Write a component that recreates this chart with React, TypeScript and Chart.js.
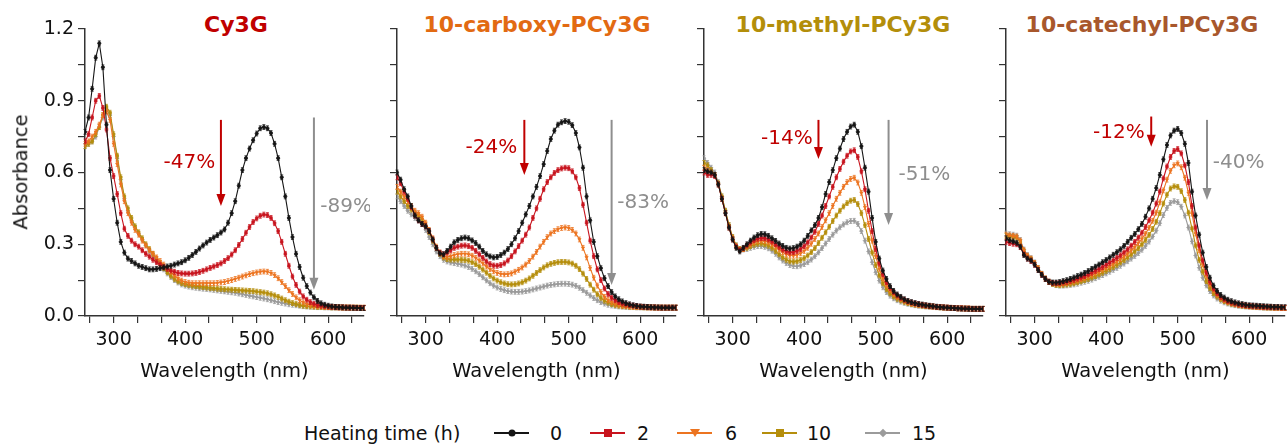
import React, { useEffect, useRef } from 'react';
import { Chart, registerables } from 'chart.js';

Chart.register(...registerables);

const FONT = '"DejaVu Sans", "Liberation Sans", sans-serif';

// ---------- data ----------
const wavelengths = [
  260, 265, 270, 275, 280, 285, 290, 295, 300, 305,
  310, 315, 320, 325, 330, 335, 340, 345, 350, 355,
  360, 365, 370, 375, 380, 385, 390, 395, 400, 405,
  410, 415, 420, 425, 430, 435, 440, 445, 450, 455,
  460, 465, 470, 475, 480, 485, 490, 495, 500, 505,
  510, 515, 520, 525, 530, 535, 540, 545, 550, 555,
  560, 565, 570, 575, 580, 585, 590, 595, 600, 605,
  610, 615, 620, 625, 630, 635, 640, 645, 650,
];

const heatingTimes = ['0', '2', '6', '10', '15'];
const seriesColors = ['#151515', '#c8141e', '#ec7420', '#b58e0c', '#9b9b9b'];
const pointStyles = ['circle', 'rect', 'triangle', 'rect', 'rectRot'];
const pointRotations = [0, 0, 180, 0, 0];

const xTickValues = [266.667, 300, 333.333, 366.667, 400, 433.333, 466.667, 500, 533.333, 566.667, 600, 633.333];
const yTickValues = [0, 0.15, 0.3, 0.45, 0.6, 0.75, 0.9, 1.05, 1.2];

// Cy3G
const cy3g_0h = [
  0.77, 0.83, 0.95, 1.08, 1.14, 1.04, 0.80, 0.61, 0.49, 0.39,
  0.31, 0.265, 0.24, 0.23, 0.22, 0.21, 0.205, 0.20, 0.195, 0.195,
  0.197, 0.20, 0.203, 0.207, 0.21, 0.215, 0.22, 0.225, 0.233, 0.243,
  0.255, 0.268, 0.282, 0.295, 0.307, 0.318, 0.328, 0.338, 0.349, 0.362,
  0.39, 0.43, 0.48, 0.545, 0.61, 0.66, 0.70, 0.735, 0.763, 0.785,
  0.79, 0.785, 0.765, 0.72, 0.66, 0.58, 0.50, 0.41, 0.33, 0.26,
  0.205, 0.16, 0.125, 0.098, 0.078, 0.063, 0.053, 0.047, 0.043, 0.04,
  0.038, 0.037, 0.036, 0.035, 0.035, 0.034, 0.034, 0.033, 0.033,
];
const cy3g_2h = [
  0.73, 0.76, 0.83, 0.90, 0.92, 0.87, 0.78, 0.66, 0.585, 0.51,
  0.43, 0.365, 0.335, 0.315, 0.30, 0.29, 0.275, 0.26, 0.248, 0.235,
  0.225, 0.215, 0.205, 0.197, 0.19, 0.185, 0.18, 0.178, 0.177, 0.177,
  0.178, 0.18, 0.184, 0.189, 0.195, 0.201, 0.207, 0.213, 0.22, 0.23,
  0.242, 0.257, 0.275, 0.297, 0.322, 0.348, 0.372, 0.393, 0.408, 0.419,
  0.424, 0.422, 0.41, 0.388, 0.355, 0.31, 0.26, 0.21, 0.165, 0.13,
  0.102, 0.082, 0.068, 0.058, 0.051, 0.046, 0.043, 0.041, 0.039, 0.038,
  0.037, 0.036, 0.036, 0.035, 0.035, 0.035, 0.034, 0.034, 0.034,
];
const cy3g_6h = [
  0.72, 0.73, 0.75, 0.77, 0.80, 0.84, 0.855, 0.82, 0.72, 0.635,
  0.55, 0.48, 0.43, 0.39, 0.36, 0.34, 0.315, 0.295, 0.275, 0.26,
  0.245, 0.23, 0.215, 0.20, 0.185, 0.17, 0.158, 0.148, 0.142, 0.139,
  0.137, 0.137, 0.137, 0.137, 0.137, 0.137, 0.137, 0.138, 0.14, 0.142,
  0.146, 0.15, 0.155, 0.16, 0.165, 0.17, 0.175, 0.179, 0.182, 0.185,
  0.186, 0.185, 0.18, 0.171, 0.158, 0.142, 0.125, 0.108, 0.092, 0.078,
  0.066, 0.057, 0.05, 0.046, 0.043, 0.041, 0.04, 0.039, 0.038, 0.037,
  0.037, 0.036, 0.036, 0.036, 0.035, 0.035, 0.035, 0.035, 0.035,
];
const cy3g_10h = [
  0.71, 0.72, 0.73, 0.76, 0.79, 0.84, 0.875, 0.85, 0.76, 0.67,
  0.58, 0.50, 0.45, 0.41, 0.375, 0.35, 0.325, 0.30, 0.28, 0.26,
  0.24, 0.22, 0.20, 0.183, 0.168, 0.155, 0.145, 0.138, 0.133, 0.13,
  0.127, 0.125, 0.123, 0.121, 0.119, 0.117, 0.116, 0.114, 0.113, 0.112,
  0.111, 0.11, 0.109, 0.108, 0.107, 0.106, 0.105, 0.104, 0.102, 0.10,
  0.098, 0.095, 0.091, 0.086, 0.08, 0.073, 0.066, 0.06, 0.054, 0.05,
  0.046, 0.043, 0.041, 0.04, 0.039, 0.038, 0.038, 0.037, 0.037, 0.036,
  0.036, 0.036, 0.035, 0.035, 0.035, 0.035, 0.035, 0.034, 0.034,
];
const cy3g_15h = [
  0.71, 0.72, 0.73, 0.75, 0.79, 0.83, 0.865, 0.84, 0.75, 0.66,
  0.57, 0.49, 0.44, 0.40, 0.37, 0.345, 0.32, 0.295, 0.272, 0.252,
  0.232, 0.213, 0.195, 0.178, 0.163, 0.15, 0.14, 0.132, 0.127, 0.123,
  0.12, 0.118, 0.116, 0.114, 0.113, 0.111, 0.109, 0.107, 0.105, 0.103,
  0.101, 0.099, 0.097, 0.094, 0.091, 0.088, 0.085, 0.082, 0.079, 0.076,
  0.073, 0.07, 0.066, 0.062, 0.058, 0.055, 0.052, 0.049, 0.047, 0.045,
  0.043, 0.041, 0.04, 0.039, 0.038, 0.037, 0.037, 0.036, 0.036, 0.035,
  0.035, 0.035, 0.035, 0.034, 0.034, 0.034, 0.034, 0.034, 0.034,
];

// 10-carboxy-PCy3G
const carboxy_0h = [
  0.60, 0.57, 0.53, 0.50, 0.46, 0.42, 0.40, 0.385, 0.375, 0.355,
  0.32, 0.285, 0.262, 0.258, 0.272, 0.29, 0.308, 0.318, 0.325, 0.328,
  0.325, 0.316, 0.305, 0.29, 0.272, 0.258, 0.249, 0.245, 0.247, 0.255,
  0.265, 0.28, 0.30, 0.325, 0.355, 0.39, 0.425, 0.46, 0.50, 0.54,
  0.585, 0.635, 0.69, 0.74, 0.775, 0.80, 0.81, 0.815, 0.812, 0.798,
  0.765, 0.705, 0.62, 0.50, 0.40, 0.31, 0.25, 0.20, 0.158, 0.125,
  0.10, 0.082, 0.07, 0.061, 0.054, 0.049, 0.045, 0.042, 0.04, 0.039,
  0.038, 0.037, 0.036, 0.036, 0.035, 0.035, 0.035, 0.035, 0.035,
];
const carboxy_2h = [
  0.58, 0.555, 0.52, 0.49, 0.455, 0.42, 0.40, 0.385, 0.375, 0.355,
  0.32, 0.285, 0.265, 0.258, 0.265, 0.275, 0.285, 0.29, 0.294, 0.295,
  0.292, 0.285, 0.272, 0.258, 0.243, 0.228, 0.217, 0.211, 0.21, 0.213,
  0.22, 0.232, 0.25, 0.27, 0.292, 0.315, 0.34, 0.37, 0.41, 0.45,
  0.49, 0.53, 0.56, 0.58, 0.598, 0.61, 0.617, 0.62, 0.618, 0.605,
  0.58, 0.535, 0.465, 0.39, 0.315, 0.25, 0.195, 0.15, 0.115, 0.092,
  0.076, 0.066, 0.058, 0.052, 0.048, 0.045, 0.043, 0.041, 0.039, 0.038,
  0.037, 0.036, 0.036, 0.035, 0.035, 0.035, 0.035, 0.035, 0.035,
];
const carboxy_6h = [
  0.54, 0.52, 0.50, 0.48, 0.46, 0.44, 0.43, 0.415, 0.39, 0.36,
  0.325, 0.29, 0.265, 0.25, 0.247, 0.25, 0.255, 0.258, 0.26, 0.26,
  0.258, 0.252, 0.243, 0.232, 0.22, 0.207, 0.196, 0.187, 0.18, 0.176,
  0.174, 0.175, 0.178, 0.185, 0.193, 0.203, 0.215, 0.23, 0.248, 0.268,
  0.29, 0.31, 0.33, 0.345, 0.355, 0.363, 0.368, 0.37, 0.368, 0.36,
  0.345, 0.32, 0.285, 0.245, 0.20, 0.16, 0.127, 0.10, 0.08, 0.067,
  0.058, 0.051, 0.047, 0.044, 0.042, 0.04, 0.039, 0.038, 0.037, 0.037,
  0.036, 0.036, 0.036, 0.035, 0.035, 0.035, 0.035, 0.035, 0.035,
];
const carboxy_10h = [
  0.52, 0.50, 0.48, 0.46, 0.445, 0.43, 0.42, 0.405, 0.38, 0.35,
  0.315, 0.285, 0.26, 0.245, 0.238, 0.236, 0.236, 0.236, 0.235, 0.234,
  0.231, 0.225, 0.217, 0.206, 0.194, 0.181, 0.168, 0.157, 0.148, 0.141,
  0.136, 0.133, 0.132, 0.133, 0.136, 0.141, 0.148, 0.157, 0.168, 0.18,
  0.192, 0.203, 0.212, 0.218, 0.222, 0.225, 0.226, 0.226, 0.224, 0.219,
  0.21, 0.196, 0.177, 0.155, 0.131, 0.11, 0.091, 0.076, 0.064, 0.056,
  0.05, 0.046, 0.043, 0.041, 0.04, 0.039, 0.038, 0.037, 0.037, 0.036,
  0.036, 0.036, 0.035, 0.035, 0.035, 0.035, 0.035, 0.035, 0.035,
];
const carboxy_15h = [
  0.50, 0.48, 0.46, 0.44, 0.425, 0.41, 0.40, 0.385, 0.36, 0.33,
  0.30, 0.27, 0.25, 0.235, 0.228, 0.224, 0.221, 0.218, 0.215, 0.211,
  0.205, 0.197, 0.187, 0.175, 0.162, 0.149, 0.137, 0.127, 0.119, 0.113,
  0.108, 0.104, 0.102, 0.101, 0.101, 0.102, 0.104, 0.107, 0.111, 0.115,
  0.119, 0.123, 0.127, 0.13, 0.132, 0.134, 0.135, 0.135, 0.134, 0.131,
  0.126, 0.118, 0.108, 0.097, 0.086, 0.075, 0.066, 0.058, 0.052, 0.047,
  0.044, 0.042, 0.04, 0.039, 0.038, 0.037, 0.037, 0.036, 0.036, 0.036,
  0.035, 0.035, 0.035, 0.035, 0.035, 0.034, 0.034, 0.034, 0.034,
];

// 10-methyl-PCy3G
const methyl_0h = [
  0.61, 0.605, 0.60, 0.59, 0.55, 0.49, 0.43, 0.37, 0.32, 0.285,
  0.27, 0.285, 0.30, 0.315, 0.328, 0.338, 0.343, 0.342, 0.335, 0.325,
  0.314, 0.303, 0.293, 0.285, 0.282, 0.284, 0.29, 0.30, 0.315, 0.335,
  0.358, 0.38, 0.41, 0.455, 0.51, 0.56, 0.61, 0.66, 0.70, 0.74,
  0.77, 0.792, 0.80, 0.77, 0.71, 0.62, 0.52, 0.41, 0.31, 0.24,
  0.19, 0.155, 0.125, 0.105, 0.09, 0.08, 0.07, 0.063, 0.058, 0.054,
  0.05, 0.048, 0.045, 0.043, 0.041, 0.039, 0.037, 0.036, 0.035, 0.034,
  0.033, 0.032, 0.031, 0.031, 0.03, 0.03, 0.03, 0.03, 0.03,
];
const methyl_2h = [
  0.60, 0.59, 0.59, 0.585, 0.55, 0.49, 0.43, 0.37, 0.32, 0.29,
  0.275, 0.283, 0.295, 0.307, 0.317, 0.323, 0.326, 0.325, 0.32, 0.311,
  0.30, 0.289, 0.278, 0.27, 0.266, 0.267, 0.272, 0.28, 0.292, 0.308,
  0.328, 0.352, 0.385, 0.42, 0.46, 0.50, 0.54, 0.58, 0.615, 0.645,
  0.67, 0.688, 0.693, 0.665, 0.605, 0.53, 0.44, 0.355, 0.28, 0.22,
  0.175, 0.142, 0.118, 0.10, 0.086, 0.076, 0.068, 0.061, 0.056, 0.052,
  0.049, 0.046, 0.044, 0.042, 0.04, 0.038, 0.037, 0.036, 0.035, 0.034,
  0.033, 0.032, 0.032, 0.031, 0.031, 0.03, 0.03, 0.03, 0.03,
];
const methyl_6h = [
  0.62, 0.61, 0.60, 0.59, 0.55, 0.49, 0.43, 0.37, 0.325, 0.29,
  0.277, 0.28, 0.29, 0.30, 0.308, 0.313, 0.315, 0.313, 0.308, 0.30,
  0.29, 0.278, 0.267, 0.258, 0.253, 0.252, 0.255, 0.262, 0.272, 0.285,
  0.302, 0.322, 0.345, 0.372, 0.40, 0.43, 0.46, 0.49, 0.515, 0.54,
  0.56, 0.573, 0.578, 0.558, 0.515, 0.455, 0.385, 0.315, 0.25, 0.197,
  0.157, 0.128, 0.107, 0.092, 0.08, 0.071, 0.064, 0.058, 0.053, 0.05,
  0.047, 0.045, 0.043, 0.041, 0.04, 0.038, 0.037, 0.036, 0.035, 0.034,
  0.033, 0.032, 0.032, 0.031, 0.031, 0.03, 0.03, 0.03, 0.03,
];
const methyl_10h = [
  0.64, 0.63, 0.61, 0.59, 0.555, 0.50, 0.44, 0.38, 0.33, 0.295,
  0.28, 0.28, 0.285, 0.292, 0.298, 0.302, 0.303, 0.30, 0.294, 0.285,
  0.272, 0.258, 0.245, 0.235, 0.229, 0.227, 0.229, 0.234, 0.242, 0.253,
  0.267, 0.284, 0.305, 0.327, 0.35, 0.373, 0.397, 0.42, 0.44, 0.458,
  0.472, 0.482, 0.485, 0.468, 0.43, 0.38, 0.322, 0.265, 0.213, 0.17,
  0.137, 0.113, 0.095, 0.082, 0.072, 0.065, 0.059, 0.054, 0.05, 0.047,
  0.045, 0.043, 0.041, 0.04, 0.039, 0.037, 0.036, 0.035, 0.034, 0.034,
  0.033, 0.032, 0.032, 0.031, 0.031, 0.03, 0.03, 0.03, 0.03,
];
const methyl_15h = [
  0.66, 0.64, 0.62, 0.60, 0.56, 0.50, 0.44, 0.38, 0.33, 0.295,
  0.28, 0.278, 0.28, 0.285, 0.289, 0.292, 0.292, 0.289, 0.283, 0.273,
  0.26, 0.245, 0.232, 0.221, 0.213, 0.209, 0.208, 0.211, 0.217, 0.225,
  0.236, 0.25, 0.266, 0.284, 0.303, 0.322, 0.34, 0.357, 0.371, 0.383,
  0.392, 0.397, 0.398, 0.385, 0.355, 0.315, 0.27, 0.225, 0.183, 0.148,
  0.12, 0.10, 0.085, 0.074, 0.066, 0.06, 0.055, 0.051, 0.048, 0.045,
  0.043, 0.041, 0.04, 0.039, 0.038, 0.037, 0.036, 0.035, 0.034, 0.034,
  0.033, 0.032, 0.032, 0.031, 0.031, 0.03, 0.03, 0.03, 0.03,
];

// 10-catechyl-PCy3G
const catechyl_0h = [
  0.325, 0.317, 0.312, 0.306, 0.29, 0.255, 0.24, 0.232, 0.215, 0.192,
  0.172, 0.155, 0.143, 0.14, 0.14, 0.142, 0.146, 0.15, 0.155, 0.161,
  0.167, 0.173, 0.18, 0.188, 0.197, 0.206, 0.215, 0.225, 0.234, 0.245,
  0.256, 0.267, 0.279, 0.293, 0.31, 0.327, 0.343, 0.363, 0.385, 0.415,
  0.45, 0.49, 0.535, 0.59, 0.655, 0.715, 0.755, 0.775, 0.782, 0.765,
  0.72, 0.64, 0.52, 0.42, 0.34, 0.265, 0.205, 0.16, 0.127, 0.105,
  0.088, 0.077, 0.068, 0.062, 0.057, 0.053, 0.05, 0.047, 0.045, 0.044,
  0.043, 0.042, 0.041, 0.04, 0.039, 0.038, 0.038, 0.037, 0.037,
];
const catechyl_2h = [
  0.31, 0.305, 0.302, 0.30, 0.288, 0.258, 0.24, 0.23, 0.214, 0.193,
  0.172, 0.155, 0.143, 0.138, 0.137, 0.138, 0.14, 0.143, 0.147, 0.151,
  0.156, 0.161, 0.167, 0.174, 0.181, 0.189, 0.197, 0.205, 0.214, 0.223,
  0.233, 0.243, 0.254, 0.266, 0.279, 0.294, 0.31, 0.328, 0.348, 0.372,
  0.40, 0.432, 0.47, 0.52, 0.575, 0.625, 0.665, 0.69, 0.698, 0.68,
  0.63, 0.56, 0.46, 0.37, 0.295, 0.232, 0.182, 0.143, 0.115, 0.095,
  0.08, 0.07, 0.062, 0.056, 0.052, 0.048, 0.046, 0.044, 0.042, 0.041,
  0.04, 0.039, 0.038, 0.037, 0.037, 0.036, 0.036, 0.035, 0.035,
];
const catechyl_6h = [
  0.34, 0.337, 0.335, 0.332, 0.315, 0.275, 0.252, 0.24, 0.222, 0.20,
  0.176, 0.157, 0.144, 0.137, 0.134, 0.134, 0.136, 0.138, 0.141, 0.145,
  0.149, 0.154, 0.159, 0.165, 0.171, 0.178, 0.185, 0.193, 0.201, 0.209,
  0.218, 0.228, 0.238, 0.249, 0.261, 0.274, 0.289, 0.305, 0.323, 0.344,
  0.369, 0.398, 0.432, 0.475, 0.525, 0.57, 0.607, 0.63, 0.638, 0.622,
  0.578, 0.515, 0.428, 0.345, 0.275, 0.215, 0.168, 0.133, 0.107, 0.089,
  0.076, 0.066, 0.059, 0.054, 0.05, 0.047, 0.045, 0.043, 0.041, 0.04,
  0.039, 0.038, 0.037, 0.036, 0.036, 0.035, 0.035, 0.034, 0.034,
];
const catechyl_10h = [
  0.335, 0.333, 0.33, 0.328, 0.31, 0.272, 0.25, 0.238, 0.22, 0.198,
  0.175, 0.156, 0.142, 0.134, 0.13, 0.129, 0.13, 0.132, 0.134, 0.137,
  0.141, 0.145, 0.15, 0.155, 0.161, 0.167, 0.174, 0.181, 0.189, 0.197,
  0.205, 0.214, 0.224, 0.234, 0.245, 0.257, 0.27, 0.284, 0.30, 0.318,
  0.339, 0.364, 0.394, 0.43, 0.47, 0.507, 0.533, 0.542, 0.54, 0.522,
  0.485, 0.432, 0.365, 0.295, 0.235, 0.185, 0.146, 0.117, 0.096, 0.081,
  0.07, 0.062, 0.056, 0.051, 0.048, 0.045, 0.043, 0.041, 0.04, 0.039,
  0.038, 0.037, 0.036, 0.035, 0.035, 0.034, 0.034, 0.033, 0.033,
];
const catechyl_15h = [
  0.345, 0.342, 0.34, 0.336, 0.318, 0.278, 0.255, 0.242, 0.224, 0.201,
  0.177, 0.157, 0.143, 0.134, 0.129, 0.127, 0.127, 0.128, 0.13, 0.132,
  0.135, 0.139, 0.143, 0.147, 0.152, 0.158, 0.164, 0.171, 0.178, 0.185,
  0.193, 0.201, 0.21, 0.219, 0.229, 0.24, 0.251, 0.263, 0.277, 0.293,
  0.311, 0.332, 0.357, 0.388, 0.422, 0.452, 0.473, 0.48, 0.476, 0.457,
  0.42, 0.37, 0.312, 0.253, 0.202, 0.16, 0.128, 0.104, 0.086, 0.073,
  0.064, 0.057, 0.052, 0.048, 0.045, 0.043, 0.041, 0.04, 0.039, 0.038,
  0.037, 0.036, 0.035, 0.035, 0.034, 0.034, 0.034, 0.033, 0.033,
];

// annotations: [x (nm), from (abs), to (abs)] and labels [text, x (nm), y (abs)]
const redArrows = [[450, 0.82, 0.46], [438, 0.82, 0.59], [420, 0.82, 0.656], [463, 0.834, 0.708]];
const grayArrows = [[580, 0.83, 0.11], [560, 0.82, 0.13], [518, 0.82, 0.38], [541, 0.82, 0.485]];
const redLabels = [['-47%', 442, 0.64], ['-24%', 428, 0.705], ['-14%', 412, 0.74], ['-12%', 454, 0.768]];
const grayLabels = [['-89%', 589, 0.456], ['-83%', 568, 0.473], ['-51%', 532, 0.592], ['-40%', 549, 0.642]];

const panelTitles = ['Cy3G', '10-carboxy-PCy3G', '10-methyl-PCy3G', '10-catechyl-PCy3G'];
const titleColors = ['#c00000', '#e26a12', '#b38e0a', '#a8572c'];
const panelSeries = [
  [cy3g_0h, cy3g_2h, cy3g_6h, cy3g_10h, cy3g_15h],
  [carboxy_0h, carboxy_2h, carboxy_6h, carboxy_10h, carboxy_15h],
  [methyl_0h, methyl_2h, methyl_6h, methyl_10h, methyl_15h],
  [catechyl_0h, catechyl_2h, catechyl_6h, catechyl_10h, catechyl_15h],
];

// ---------- layout ----------
const PLOT_LEFTS = [85, 397, 704, 1006];
const PLOT_W = 279;
const AXIS_W = 70;
const PAD_R = 6;
const CANVAS_W = AXIS_W + PLOT_W + PAD_R;
const CANVAS_H = 400;
const PLOT_TOP = 29;
const PLOT_BOTTOM = 316;
const TITLE_X = [236, 537, 843, 1142];
const TICK_FONT = 19;
const AXIS_TITLE_FONT = 19.5;

const errorBarPlugin = {
  id: 'errorBars',
  afterDatasetDraw(chart: any, args: any) {
    const ds = chart.data.datasets[args.index];
    const ctx = chart.ctx;
    ctx.save();
    ctx.strokeStyle = ds.borderColor;
    ctx.lineWidth = 0.8;
    const h = 2.4;
    const c = 1.5;
    for (const el of args.meta.data) {
      const x = el.x;
      const y = el.y;
      ctx.beginPath();
      ctx.moveTo(x, y - h);
      ctx.lineTo(x, y + h);
      ctx.moveTo(x - c, y - h);
      ctx.lineTo(x + c, y - h);
      ctx.moveTo(x - c, y + h);
      ctx.lineTo(x + c, y + h);
      ctx.stroke();
    }
    ctx.restore();
  },
};

function drawArrow(ctx: CanvasRenderingContext2D, x: number, y1: number, y2: number, color: string) {
  const head = 12;
  const hw = 4.5;
  ctx.save();
  ctx.strokeStyle = color;
  ctx.fillStyle = color;
  ctx.lineWidth = 2;
  ctx.beginPath();
  ctx.moveTo(x, y1);
  ctx.lineTo(x, y2 - head + 1);
  ctx.stroke();
  ctx.beginPath();
  ctx.moveTo(x - hw, y2 - head);
  ctx.lineTo(x + hw, y2 - head);
  ctx.lineTo(x, y2);
  ctx.closePath();
  ctx.fill();
  ctx.restore();
}

function makeAnnotationPlugin(p: number) {
  return {
    id: 'arrows' + p,
    afterDraw(chart: any) {
      const ctx = chart.ctx;
      const xs = chart.scales.x;
      const ys = chart.scales.y;
      const ra = redArrows[p];
      const ga = grayArrows[p];
      drawArrow(ctx, xs.getPixelForValue(ra[0]), ys.getPixelForValue(ra[1]), ys.getPixelForValue(ra[2]), '#c00000');
      drawArrow(ctx, xs.getPixelForValue(ga[0]), ys.getPixelForValue(ga[1]), ys.getPixelForValue(ga[2]), '#8e8e8e');
      ctx.save();
      ctx.font = '20px ' + FONT;
      ctx.textBaseline = 'middle';
      const rl = redLabels[p];
      ctx.fillStyle = '#c00000';
      ctx.textAlign = 'right';
      ctx.fillText(rl[0] as string, xs.getPixelForValue(rl[1] as number), ys.getPixelForValue(rl[2] as number));
      const gl = grayLabels[p];
      ctx.fillStyle = '#8e8e8e';
      ctx.textAlign = 'left';
      ctx.fillText(gl[0] as string, xs.getPixelForValue(gl[1] as number), ys.getPixelForValue(gl[2] as number));
      ctx.restore();
    },
  };
}

function Panel({ index }: { index: number }) {
  const ref = useRef<HTMLCanvasElement | null>(null);
  useEffect(() => {
    if (!ref.current) return;
    const showY = index === 0;
    const series = panelSeries[index];
    const chart = new Chart(ref.current, {
      type: 'line',
      data: {
        datasets: series.map((vals, i) => ({
          label: heatingTimes[i],
          data: wavelengths.map((w, j) => ({ x: w, y: vals[j] })),
          borderColor: seriesColors[i],
          backgroundColor: seriesColors[i],
          borderWidth: 1.1,
          pointStyle: pointStyles[i] as any,
          pointRotation: pointRotations[i],
          pointRadius: i === 0 ? 1.6 : 1.8,
          pointBorderWidth: 0.8,
          tension: 0,
        })),
      },
      options: {
        animation: false,
        responsive: false,
        maintainAspectRatio: false,
        devicePixelRatio: 1,
        events: [],
        layout: { padding: { top: PLOT_TOP, right: PAD_R, bottom: 0, left: 0 } },
        plugins: { legend: { display: false }, tooltip: { enabled: false }, title: { display: false } },
        scales: {
          x: {
            type: 'linear',
            min: 260,
            max: 650,
            afterBuildTicks: (s: any) => {
              s.ticks = xTickValues.map((v) => ({ value: v }));
            },
            afterFit: (s: any) => {
              s.height = CANVAS_H - PLOT_BOTTOM;
            },
            ticks: {
              autoSkip: false,
              maxRotation: 0,
              padding: 6,
              color: '#111',
              font: { family: FONT, size: TICK_FONT },
              callback: (v: any) => (Math.abs(v % 100) < 0.01 ? String(Math.round(v)) : ''),
            },
            grid: { drawOnChartArea: false, drawTicks: true, tickLength: 7, color: '#333', lineWidth: 1.2 },
            border: { display: true, color: '#333', width: 1.5 },
          },
          y: {
            type: 'linear',
            min: 0,
            max: 1.2,
            afterBuildTicks: (s: any) => {
              s.ticks = yTickValues.map((v) => ({ value: v }));
            },
            afterFit: (s: any) => {
              s.width = AXIS_W;
            },
            ticks: {
              autoSkip: false,
              padding: 4,
              color: '#111',
              font: { family: FONT, size: TICK_FONT },
              callback: (v: any, i: number) => (showY && i % 2 === 0 ? Number(v).toFixed(1) : ''),
            },
            grid: { drawOnChartArea: false, drawTicks: true, tickLength: 7, color: '#333', lineWidth: 1.2 },
            border: { display: true, color: '#333', width: 1.5 },
          },
        },
      },
      plugins: [errorBarPlugin, makeAnnotationPlugin(index)],
    } as any);
    return () => chart.destroy();
  }, [index]);

  return (
    <canvas
      ref={ref}
      width={CANVAS_W}
      height={CANVAS_H}
      style={{ position: 'absolute', left: PLOT_LEFTS[index] - AXIS_W, top: 0, width: CANVAS_W, height: CANVAS_H }}
    />
  );
}

function LegendMarker({ i }: { i: number }) {
  const color = seriesColors[i];
  const base: React.CSSProperties = { position: 'absolute', left: '50%', top: '50%' };
  let shape: React.CSSProperties;
  if (i === 0) {
    shape = { ...base, width: 7, height: 7, borderRadius: '50%', background: color, transform: 'translate(-50%,-50%)' };
  } else if (i === 2) {
    shape = {
      ...base,
      width: 0,
      height: 0,
      borderLeft: '5px solid transparent',
      borderRight: '5px solid transparent',
      borderTop: '8px solid ' + color,
      transform: 'translate(-50%,-50%)',
    };
  } else if (i === 4) {
    shape = { ...base, width: 6, height: 6, background: color, transform: 'translate(-50%,-50%) rotate(45deg)' };
  } else {
    shape = { ...base, width: 8, height: 8, background: color, transform: 'translate(-50%,-50%)' };
  }
  return <div style={shape} />;
}

const legendLineX = [494, 590, 677, 762, 865];
const legendTextX = [550, 637, 725, 807, 912];

export default function App() {
  return (
    <div
      style={{
        position: 'absolute',
        left: 0,
        top: 0,
        width: 1288,
        height: 444,
        overflow: 'hidden',
        background: '#ffffff',
        fontFamily: FONT,
        color: '#111',
      }}
    >
      {panelTitles.map((t, i) => (
        <div
          key={'t' + i}
          style={{
            position: 'absolute',
            left: TITLE_X[i],
            top: 25,
            transform: 'translate(-50%,-50%)',
            fontSize: 22,
            lineHeight: 1,
            fontWeight: 'bold',
            color: titleColors[i],
            whiteSpace: 'nowrap',
          }}
        >
          {t}
        </div>
      ))}
      {[0, 1, 2, 3].map((i) => (
        <Panel key={'p' + i} index={i} />
      ))}
      {[0, 1, 2, 3].map((i) => (
        <div
          key={'x' + i}
          style={{
            position: 'absolute',
            left: PLOT_LEFTS[i] + PLOT_W / 2,
            top: 371,
            transform: 'translate(-50%,-50%)',
            fontSize: AXIS_TITLE_FONT,
            lineHeight: 1,
            whiteSpace: 'nowrap',
          }}
        >
          Wavelength (nm)
        </div>
      ))}
      <div
        style={{
          position: 'absolute',
          left: 21,
          top: 172,
          transform: 'translate(-50%,-50%) rotate(-90deg)',
          fontSize: AXIS_TITLE_FONT,
          lineHeight: 1,
          whiteSpace: 'nowrap',
        }}
      >
        Absorbance
      </div>
      <div
        style={{
          position: 'absolute',
          left: 304,
          top: 433,
          transform: 'translateY(-50%)',
          fontSize: 19,
          lineHeight: 1,
          whiteSpace: 'nowrap',
        }}
      >
        Heating time (h)
      </div>
      {heatingTimes.map((h, i) => (
        <React.Fragment key={'l' + i}>
          <div
            style={{
              position: 'absolute',
              left: legendLineX[i],
              top: 432,
              width: 35,
              height: 2,
              background: seriesColors[i],
            }}
          >
            <LegendMarker i={i} />
          </div>
          <div
            style={{
              position: 'absolute',
              left: legendTextX[i],
              top: 433,
              transform: 'translateY(-50%)',
              fontSize: 19,
              lineHeight: 1,
              whiteSpace: 'nowrap',
            }}
          >
            {h}
          </div>
        </React.Fragment>
      ))}
    </div>
  );
}
